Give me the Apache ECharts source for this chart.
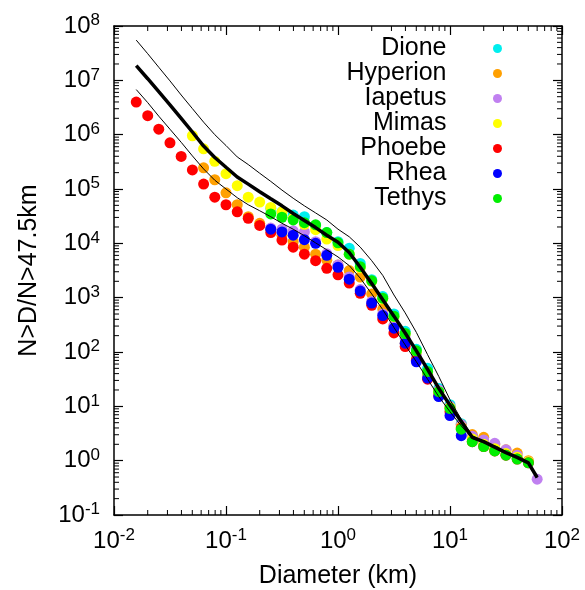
<!DOCTYPE html>
<html>
<head>
<meta charset="utf-8">
<script src="https://cdn.jsdelivr.net/npm/echarts@6/dist/echarts.min.js"></script>
<style>html,body{margin:0;padding:0;background:#fff;}#c{width:585px;height:590px;}</style>
</head>
<body>
<div id="c"></div>
<script>
// Diameter bins (km)
const diameters = [0.0158,0.02,0.0251,0.0316,0.0398,0.0501,0.0631,0.0794,0.1,0.126,0.158,0.2,0.251,0.316,0.398,0.501,0.631,0.794,1,1.26,1.58,2,2.51,3.16,3.98,5.01,6.31,7.94,10,12.6,15.8,20,25.1,31.6,39.8,50.1,60];

const seriesNames = ['Dione','Hyperion','Iapetus','Mimas','Phoebe','Rhea','Tethys'];
const seriesColors = ['#00eeee','#ffa000','#c080f0','#ffff00','#ff0000','#0000ff','#00ee00'];

const dione = [null,null,null,null,null,null,null,null,null,null,null,null,
  4.37e4,3.80e4,3.31e4,3.09e4,2.14e4,1.58e4,1.07e4,8.13e3,4.27e3,2.14e3,1.05e3,501,240,112,50.1,21.4,10.7,4.79,2.82,2.14,1.66,1.32,1.12,0.955,null];
const hyperion = [null,null,null,null,null,null,
  2.45e5,1.48e5,8.51e4,5.13e4,3.09e4,2.34e4,1.82e4,1.41e4,1.07e4,8.51e3,6.31e3,4.90e3,3.98e3,3.16e3,2.40e3,1.17e3,617,302,145,74.1,38.9,18.6,9.55,4.57,3.02,2.69,2.00,1.58,1.38,1.00,null];
const iapetus = [null,null,null,null,null,null,null,null,null,null,null,null,
  1.91e4,1.82e4,1.70e4,1.62e4,1.07e4,6.46e3,3.98e3,2.40e3,1.41e3,851,501,302,178,89.1,41.7,20.0,10.0,4.57,2.82,2.40,2.09,1.58,1.26,0.955,0.457];
const mimas = [null,null,null,null,null,
  9.55e5,5.50e5,3.24e5,1.91e5,1.15e5,7.08e4,5.75e4,4.57e4,3.80e4,2.88e4,2.24e4,1.78e4,1.20e4,9.12e3,6.31e3,3.55e3,2.00e3,955,447,214,100,42.7,18.6,9.55,4.17,2.51,2.00,1.66,1.35,1.15,0.955,null];
const phoebe = [3.98e6,2.24e6,1.26e6,7.08e5,3.98e5,2.24e5,1.23e5,7.08e4,5.13e4,3.80e4,2.88e4,2.14e4,1.58e4,1.15e4,8.51e3,6.31e3,4.79e3,3.47e3,2.63e3,1.86e3,1.20e3,724,407,224,126,70.8,31.6,15.8,7.94,3.98,2.24,1.82,1.51,1.26,1.07,0.912,null];
const rhea = [null,null,null,null,null,null,null,null,null,null,null,null,
  1.82e4,1.62e4,1.41e4,1.17e4,1.00e4,6.03e3,3.63e3,2.19e3,1.32e3,794,468,275,145,66.1,33.1,15.1,6.76,2.88,null,null,null,null,null,null,null];
const tethys = [null,null,null,null,null,null,null,null,null,null,null,null,
  3.47e4,3.02e4,2.69e4,2.40e4,2.19e4,1.58e4,1.02e4,6.31e3,3.72e3,2.04e3,977,457,219,105,43.7,18.6,9.12,3.80,2.24,1.82,1.51,1.26,1.07,0.912,null];

// Mean and envelope curves
const meanCurve = [1.86e7,1.07e7,6.17e6,3.55e6,2.00e6,1.12e6,6.17e5,3.80e5,2.51e5,1.66e5,1.23e5,8.91e4,6.61e4,4.90e4,3.55e4,2.63e4,1.95e4,1.41e4,1.05e4,6.76e3,3.63e3,1.82e3,912,457,224,105,47.9,21.4,10.5,5.25,2.69,2.24,1.78,1.41,1.15,0.912,0.490];
const upperCurve = [5.50e7,3.09e7,1.74e7,9.77e6,5.37e6,3.02e6,1.70e6,1.00e6,6.31e5,3.89e5,2.82e5,1.95e5,1.38e5,9.55e4,6.76e4,4.90e4,3.63e4,2.69e4,1.82e4,1.32e4,8.51e3,4.79e3,2.57e3,1.12e3,525,229,89.1,35.5,13.2,5.75,2.88,2.29,1.82,1.45,1.17,0.933,0.501];
const lowerCurve = [6.76e6,3.89e6,2.19e6,1.26e6,7.24e5,4.07e5,2.34e5,1.45e5,1.00e5,6.92e4,5.13e4,3.98e4,3.09e4,2.34e4,1.82e4,1.38e4,1.02e4,7.59e3,5.62e3,3.89e3,2.29e3,1.17e3,603,282,135,66.1,31.6,15.1,7.94,4.37,2.57,2.14,1.74,1.38,1.12,0.891,0.479];

const xMin = 0.01, xMax = 100, yMin = 0.1, yMax = 1e8;

const FONT = '"Liberation Sans", Arial, Helvetica, sans-serif';
const moonData = [dione, hyperion, iapetus, mimas, phoebe, rhea, tethys];

function pairs(vals){
  const out = [];
  vals.forEach((v,i)=>{ if(v!=null) out.push([diameters[i], v]); });
  return out;
}

// minor tick positions for log axes
function minorValues(lo, hi){
  const out = [];
  for(let e=Math.round(Math.log10(lo)); e<Math.round(Math.log10(hi)); e++){
    for(let m=2;m<=9;m++) out.push(m*Math.pow(10,e));
  }
  return out;
}
const xMinor = minorValues(xMin, xMax);
const yMinor = minorValues(yMin, yMax);

const labelRich = {
  b:{fontSize:24, fontFamily:FONT, color:'#000', lineHeight:28},
  s:{fontSize:17, fontFamily:FONT, color:'#000', lineHeight:10, verticalAlign:'top'}
};
function powLabel(v){
  const e = Math.round(Math.log10(v));
  return '{b|10}{s|' + e + '}';
}

const axisLineStyle = {color:'#000', width:1.5};
function baseAxis(extra){
  return Object.assign({
    type:'log', logBase:10,
    axisLine:{show:true, onZero:false, lineStyle:axisLineStyle},
    axisTick:{show:true, inside:true, length:9, lineStyle:{color:'#000', width:1.2}},
    minorTick:{show:false},
    splitLine:{show:false},
    minorSplitLine:{show:false}
  }, extra);
}

const series = [];
seriesNames.forEach((name, k)=>{
  series.push({
    name, type:'scatter', xAxisIndex:0, yAxisIndex:0,
    data: pairs(moonData[k]),
    symbol:'circle', symbolSize:11,
    itemStyle:{color:seriesColors[k], opacity:1},
    z:2
  });
});
[[upperCurve,1],[lowerCurve,1],[meanCurve,3.5]].forEach(([c,w])=>{
  series.push({
    type:'line', xAxisIndex:0, yAxisIndex:0,
    data: pairs(c), showSymbol:false, symbol:'none',
    lineStyle:{color:'#000', width:w}, z:3, silent:true
  });
});
series.push({
  type:'custom', xAxisIndex:0, yAxisIndex:0, silent:true, z:4,
  data: xMinor.map(v=>[v,1]),
  renderItem:(params, api)=>{
    const cs = params.coordSys;
    const x = api.coord([api.value(0), 1])[0];
    const b = cs.y + cs.height, t = cs.y;
    return {type:'group', children:[
      {type:'line', shape:{x1:x,y1:b,x2:x,y2:b-5}, style:{stroke:'#000', lineWidth:1}},
      {type:'line', shape:{x1:x,y1:t,x2:x,y2:t+5}, style:{stroke:'#000', lineWidth:1}}
    ]};
  }
});
series.push({
  type:'custom', xAxisIndex:0, yAxisIndex:0, silent:true, z:4,
  data: yMinor.map(v=>[1,v]),
  renderItem:(params, api)=>{
    const cs = params.coordSys;
    const y = api.coord([1, api.value(1)])[1];
    const l = cs.x, r = cs.x + cs.width;
    return {type:'group', children:[
      {type:'line', shape:{x1:l,y1:y,x2:l+5,y2:y}, style:{stroke:'#000', lineWidth:1}},
      {type:'line', shape:{x1:r,y1:y,x2:r-5,y2:y}, style:{stroke:'#000', lineWidth:1}}
    ]};
  }
});

const chart = echarts.init(document.getElementById('c'), null, {renderer:'canvas'});
chart.setOption({
  animation:false,
  backgroundColor:'#fff',
  grid:{left:114, right:23, top:26, bottom:75, containLabel:false, outerBoundsMode:'none'},
  legend:{
    data: seriesNames, orient:'vertical', right:78, top:31,
    align:'right', icon:'circle', itemWidth:92, itemHeight:9, itemGap:0,
    textStyle:{fontSize:25, fontFamily:FONT, color:'#000', lineHeight:25},
    selectedMode:false
  },
  xAxis:[
    baseAxis({position:'bottom', min:xMin, max:xMax,
      axisLabel:{formatter:powLabel, margin:12, rich:labelRich},
      name:'Diameter (km)', nameLocation:'middle', nameGap:49,
      nameTextStyle:{fontSize:25, fontFamily:FONT, color:'#000'}}),
    baseAxis({position:'top', min:xMin, max:xMax, axisLabel:{show:false}})
  ],
  yAxis:[
    baseAxis({position:'left', min:yMin, max:yMax,
      axisLabel:{formatter:powLabel, margin:14, rich:labelRich},
      name:'N>D/N>47.5km', nameLocation:'middle', nameGap:72, nameRotate:90,
      nameTextStyle:{fontSize:25, fontFamily:FONT, color:'#000'}}),
    baseAxis({position:'right', min:yMin, max:yMax, axisLabel:{show:false}})
  ],
  series
});
</script>
</body>
</html>
